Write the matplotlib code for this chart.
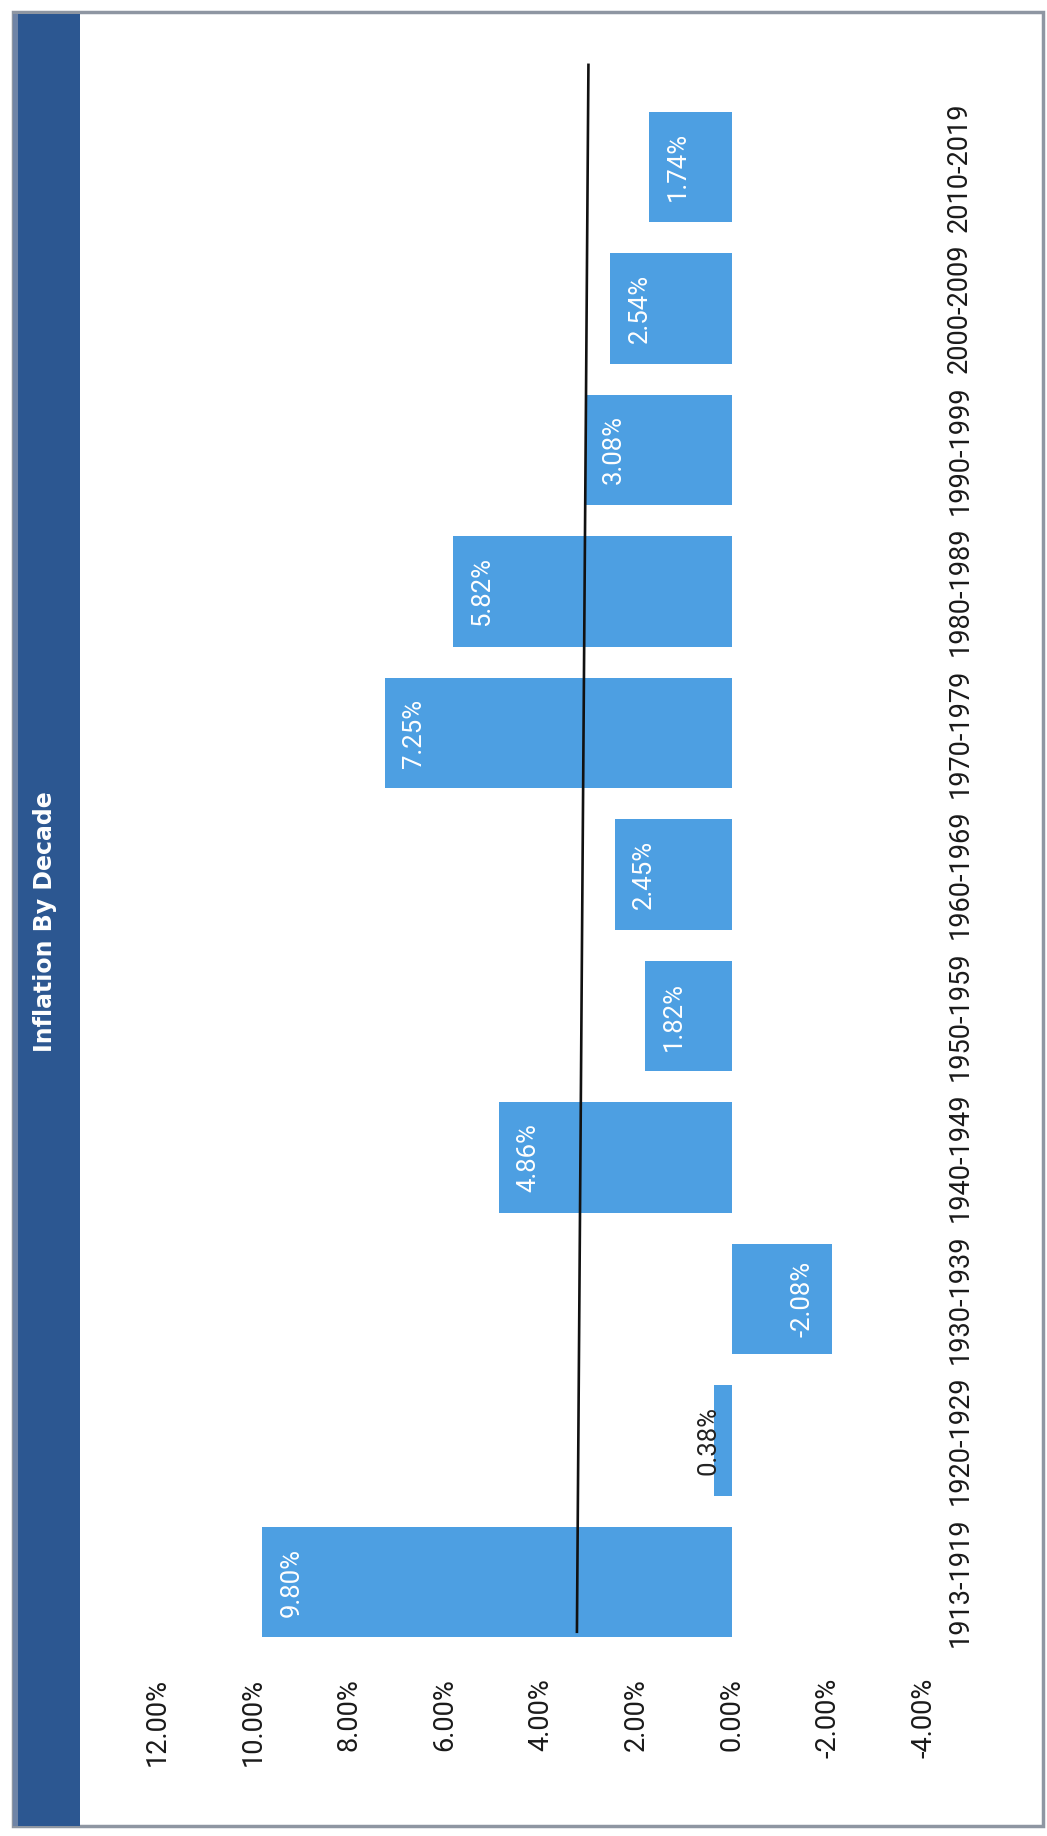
import matplotlib.pyplot as plt
import numpy as np
from matplotlib.patches import Rectangle

decades = ['1913-1919', '1920-1929', '1930-1939', '1940-1949', '1950-1959', '1960-1969',
           '1970-1979', '1980-1989', '1990-1999', '2000-2009', '2010-2019']
inflation = [9.80, 0.38, -2.08, 4.86, 1.82, 2.45, 7.25, 5.82, 3.08, 2.54, 1.74]
value_ticks = [12, 10, 8, 6, 4, 2, 0, -2, -4]
tick_labels = ['12.00%', '10.00%', '8.00%', '6.00%', '4.00%', '2.00%', '0.00%', '-2.00%', '-4.00%']
# hand drawn reference line (category position, percent)
ref_line_pos = [-0.35, 10.72]
ref_line_val = [3.24, 3.00]

W, H = 1047, 1836
txt_font = ['Roboto', 'DejaVu Sans']
bar_color = '#4D9FE2'

fig = plt.figure(figsize=(W / 100, H / 100), dpi=100)
fig.patch.set_facecolor('white')

# page frame and the title band, chart is laid out sideways
fig.add_artist(Rectangle((13 / W, 10 / H), 1030 / W, 1814 / H, transform=fig.transFigure,
                         facecolor='none', edgecolor='#8e96a2', lw=2.5))
fig.add_artist(Rectangle((13 / W, 10 / H), 67 / W, 1812 / H, transform=fig.transFigure,
                         facecolor='#2C5791', edgecolor='none'))
fig.add_artist(Rectangle((13 / W, 10 / H), 5 / W, 1812 / H, transform=fig.transFigure,
                         facecolor='#6f84a6', edgecolor='none'))
fig.text(45 / W, 1 - 922 / H, 'Inflation By Decade', rotation=90, ha='center', va='center',
         color='white', fontsize=17, fontweight='bold', family='DejaVu Sans')

ax = fig.add_axes([157 / W, 183 / H, 767 / W, 1557 / H])
pos = np.arange(len(decades))
ax.barh(pos, inflation, height=0.78, color=bar_color, zorder=2)
ax.plot(ref_line_val, ref_line_pos, color='#111111', lw=1.9, zorder=3, clip_on=False)

for i, v in enumerate(inflation):
    if abs(v) < 1:
        # too short for the label, so it sits over the bar end in dark text
        ax.annotate('%.2f%%' % v, xy=(v, i), xytext=(-4, 0), textcoords='offset points',
                    rotation=90, ha='center', va='center', color='#222222',
                    fontsize=18.5, family=txt_font, zorder=4)
    else:
        ax.annotate('%.2f%%' % v, xy=(v, i), xytext=(21 * np.sign(v), 0), textcoords='offset points',
                    rotation=90, ha='center', va='center', color='white',
                    fontsize=18.5, family=txt_font, zorder=4)

ax.set_xlim(12, -4)
ax.set_ylim(-0.5, 10.5)
ax.set_xticks(value_ticks)
ax.set_xticklabels(tick_labels, rotation=90, ha='center', va='top', family=txt_font, fontsize=19.5,
                   color='#1a1a1a')
ax.yaxis.tick_right()
ax.set_yticks(pos)
ax.set_yticklabels(decades, rotation=90, ha='left', va='center', family=txt_font, fontsize=19.5,
                   color='#1a1a1a')
ax.tick_params(axis='x', length=0, pad=18)
ax.tick_params(axis='y', length=0, pad=16)
for s in ax.spines.values():
    s.set_visible(False)
ax.set_facecolor('none')

fig.savefig('out.png', dpi=100)
